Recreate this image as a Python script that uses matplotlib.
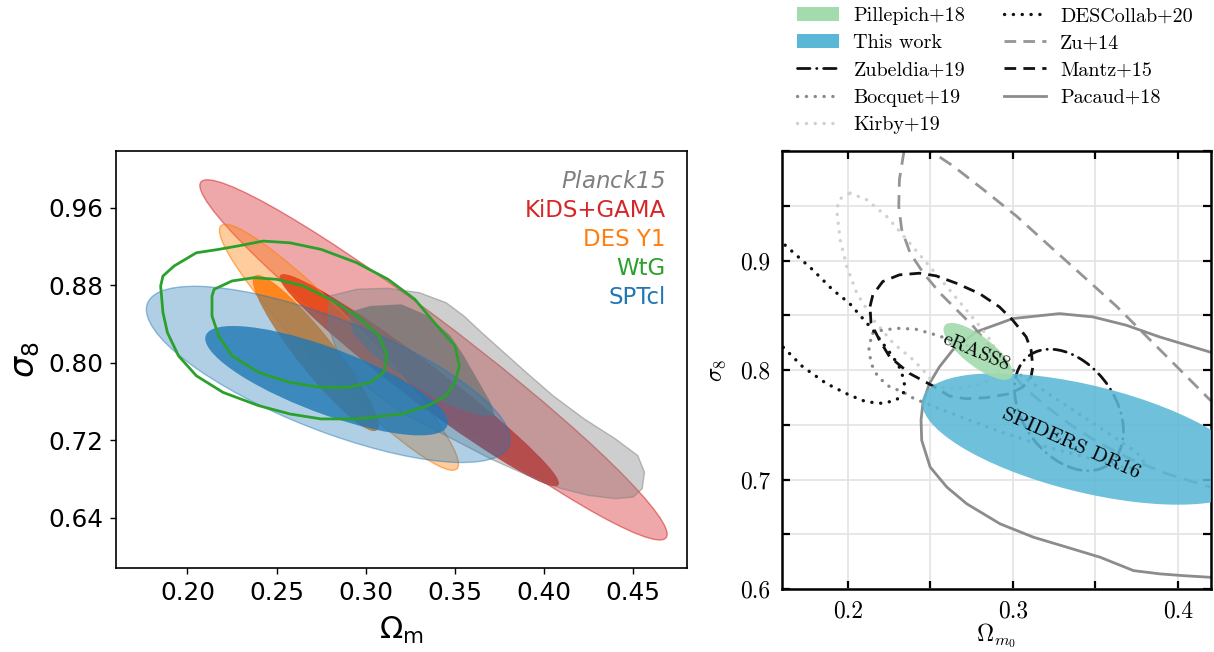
import numpy as np
import matplotlib
matplotlib.use("Agg")
import matplotlib.pyplot as plt
from matplotlib.patches import Circle, Polygon, Patch
from matplotlib.lines import Line2D
from matplotlib.transforms import Affine2D
from matplotlib.ticker import MultipleLocator, FixedLocator

plt.rcParams["font.family"] = ["DejaVu Sans"]

# ---------------------------------------------------------------------------
# Left panel: published constraints in the (Omega_m, sigma_8) plane
# Gaussian-like contours given as (centre_Om, centre_s8, half-extent Om,
# half-extent s8, correlation)
# ---------------------------------------------------------------------------
kids_outer = (0.338, 0.803, 0.131, 0.186, -0.968)
kids_inner = (0.330, 0.782, 0.078, 0.109, -0.975)
des_outer = (0.285, 0.816, 0.067, 0.127, -0.95)
des_inner = (0.272, 0.810, 0.035, 0.080, -0.93)
spt_outer = (0.279, 0.788, 0.102, 0.091, -0.736)
spt_inner = (0.278, 0.7815, 0.068, 0.0565, -0.77)

# Non-Gaussian contours traced as closed outlines
planck_outer_om = [0.280, 0.295, 0.3125, 0.330, 0.345, 0.355, 0.365, 0.3775, 0.390,
                   0.405, 0.4225, 0.440, 0.4525, 0.4563, 0.455, 0.450, 0.440, 0.425,
                   0.410, 0.395, 0.370, 0.345, 0.320, 0.300, 0.285, 0.2788]
planck_outer_s8 = [0.869, 0.8759, 0.8769, 0.8724, 0.8621, 0.8484, 0.8312, 0.8106, 0.790,
                   0.766, 0.742, 0.7214, 0.7042, 0.687, 0.6699, 0.6613, 0.6596, 0.663,
                   0.6699, 0.6802, 0.7008, 0.7248, 0.7488, 0.7763, 0.8072, 0.8381]
planck_inner_om = [0.290, 0.3025, 0.320, 0.335, 0.3475, 0.355, 0.3625, 0.370, 0.3725,
                   0.365, 0.3525, 0.340, 0.3275, 0.315, 0.3025, 0.2925]
planck_inner_s8 = [0.8518, 0.8587, 0.8604, 0.8484, 0.8278, 0.8072, 0.7832, 0.7591, 0.7454,
                   0.7454, 0.7523, 0.7626, 0.7763, 0.7935, 0.8106, 0.8312]

wtg_outer_om = [0.185, 0.1863, 0.1925, 0.205, 0.2175, 0.230, 0.2425, 0.2575, 0.275, 0.295,
                0.3125, 0.3275, 0.340, 0.350, 0.3525, 0.350, 0.345, 0.335, 0.320, 0.295,
                0.275, 0.2575, 0.240, 0.220, 0.205, 0.195, 0.1888, 0.1863]
wtg_outer_s8 = [0.8793, 0.8896, 0.8999, 0.9136, 0.9171, 0.9212, 0.9257, 0.9239, 0.9171,
                0.9033, 0.8862, 0.8656, 0.8381, 0.8175, 0.7969, 0.7797, 0.766, 0.7557,
                0.7471, 0.742, 0.742, 0.7471, 0.7557, 0.7694, 0.7866, 0.8072, 0.8312, 0.8518]
wtg_inner_om = [0.2138, 0.215, 0.225, 0.2375, 0.250, 0.265, 0.280, 0.295, 0.3075, 0.312,
                0.310, 0.3025, 0.290, 0.275, 0.2575, 0.240, 0.225, 0.2175, 0.2138]
wtg_inner_s8 = [0.869, 0.8759, 0.8845, 0.8879, 0.8862, 0.8793, 0.8656, 0.8484, 0.8278,
                0.8072, 0.790, 0.7797, 0.7746, 0.7746, 0.7797, 0.790, 0.8072, 0.8278, 0.8484]

left_names = ["Planck15", "KiDS+GAMA", "DES Y1", "WtG", "SPTcl"]
left_xticks = [0.20, 0.25, 0.30, 0.35, 0.40, 0.45]
left_yticks = [0.64, 0.72, 0.80, 0.88, 0.96]

# ---------------------------------------------------------------------------
# Right panel: cluster-count constraints
# ---------------------------------------------------------------------------
this_work = (0.345, 0.737, 0.100, 0.060, -0.55)
pillepich = (0.279, 0.817, 0.021, 0.026, -0.77)
zubeldia = (0.334, 0.7635, 0.033, 0.0555, -0.35)

mantz_om = [0.2135, 0.2152, 0.2212, 0.2313, 0.2434, 0.2535, 0.2657, 0.2798, 0.2919, 0.300,
            0.3081, 0.3111, 0.3121, 0.311, 0.306, 0.298, 0.2838, 0.2717, 0.2616, 0.2525,
            0.2374, 0.2253, 0.2192, 0.2141, 0.2135]
mantz_s8 = [0.858, 0.8686, 0.8808, 0.8869, 0.8884, 0.886, 0.8793, 0.8698, 0.8576, 0.8454,
            0.8302, 0.818, 0.8027, 0.7936, 0.7844, 0.7783, 0.7747, 0.7738, 0.7762, 0.7847,
            0.7969, 0.8122, 0.8274, 0.8427, 0.858]

zu_om = [0.2341, 0.2313, 0.2309, 0.2327, 0.2378, 0.2459, 0.256, 0.2661, 0.2762, 0.2863,
         0.2964, 0.3065, 0.3206, 0.3368, 0.3529, 0.3731, 0.3933, 0.4196, 0.430,
         0.430, 0.4196, 0.4034, 0.3832, 0.363, 0.3428, 0.3226, 0.3024, 0.2822, 0.264,
         0.2519, 0.2460]
zu_s8 = [1.0000, 0.9738, 0.9494, 0.9281, 0.9067, 0.8884, 0.8701, 0.8548, 0.8396, 0.8213,
         0.803, 0.7847, 0.7663, 0.748, 0.7328, 0.7175, 0.7053, 0.6931, 0.690,
         0.765, 0.7724, 0.7969, 0.8274, 0.8579, 0.8854, 0.9128, 0.9403, 0.9647, 0.9861,
         0.9983, 1.006]

pacaud_om = [0.425, 0.4192, 0.3889, 0.3687, 0.3485, 0.3283, 0.300, 0.2778, 0.2636, 0.2556,
             0.2495, 0.2455, 0.2444, 0.2448, 0.2499, 0.260, 0.2721, 0.2923, 0.3125, 0.3327,
             0.3529, 0.3731, 0.3893, 0.4034, 0.4196, 0.425]
pacaud_s8 = [0.814, 0.8165, 0.8302, 0.8409, 0.8485, 0.8515, 0.847, 0.8348, 0.8183, 0.803,
             0.7878, 0.7695, 0.7542, 0.7358, 0.7114, 0.6931, 0.6778, 0.6595, 0.6473, 0.6382,
             0.629, 0.6168, 0.6138, 0.6122, 0.6107, 0.610]

kirby_om = [0.2014, 0.2115, 0.2236, 0.2358, 0.2479, 0.260, 0.2701, 0.2802, 0.287, 0.292,
            0.291, 0.280, 0.265, 0.2535, 0.2475, 0.2398, 0.2277, 0.2156, 0.2055, 0.1994,
            0.1954, 0.1933, 0.1950, 0.2014]
kirby_s8 = [0.9616, 0.9555, 0.9403, 0.9189, 0.8976, 0.8762, 0.8579, 0.8396, 0.826, 0.810,
            0.795, 0.787, 0.783, 0.7847, 0.7969, 0.8091, 0.8243, 0.8457, 0.8701, 0.8945,
            0.9189, 0.9464, 0.9560, 0.9616]

bocquet_om = [0.2152, 0.2212, 0.2313, 0.2414, 0.2535, 0.2596, 0.280, 0.300, 0.320, 0.340,
              0.360, 0.375, 0.380, 0.370, 0.350, 0.320, 0.290, 0.260, 0.240, 0.2333,
              0.2253, 0.2182, 0.2141, 0.2127, 0.2152]
bocquet_s8 = [0.8335, 0.8366, 0.8381, 0.8372, 0.832, 0.8289, 0.818, 0.800, 0.780, 0.760,
              0.740, 0.725, 0.715, 0.710, 0.718, 0.730, 0.745, 0.762, 0.774, 0.7801,
              0.7847, 0.7939, 0.8061, 0.8213, 0.8335]

descollab_om = [0.150, 0.1606, 0.1788, 0.1909, 0.201, 0.2081, 0.2152, 0.2212, 0.2273,
                0.2323, 0.2343, 0.2337, 0.2293, 0.2212, 0.2111, 0.201, 0.1869, 0.1727,
                0.1606, 0.150]
descollab_s8 = [0.930, 0.916, 0.8915, 0.8732, 0.861, 0.8488, 0.8366, 0.8244, 0.8122,
                0.800, 0.7878, 0.7786, 0.7725, 0.7695, 0.771, 0.7771, 0.7878, 0.803,
                0.8213, 0.836]

right_labels = ["Pillepich+18", "This work", "Zubeldia+19", "Bocquet+19", "Kirby+19",
                "DESCollab+20", "Zu+14", "Mantz+15", "Pacaud+18"]
right_xticks = [0.2, 0.3, 0.4]
right_yticks = [0.6, 0.7, 0.8, 0.9]


def gauss_patch(ax, params, **kw):
    """Add a correlated-Gaussian contour as a transformed unit circle."""
    cx, cy, sx, sy, rho = params
    mat = np.array([[sx, 0.0, cx],
                    [rho * sy, np.sqrt(1.0 - rho ** 2) * sy, cy],
                    [0.0, 0.0, 1.0]])
    patch = Circle((0, 0), 1.0, transform=Affine2D(mat) + ax.transData, **kw)
    ax.add_patch(patch)
    return patch


fig = plt.figure(figsize=(12.14, 6.52), dpi=100)

# ----------------------------- left panel ---------------------------------
ax1 = fig.add_axes([0.0956, 0.1288, 0.4701, 0.6400])
red, orange, green, blue, grey = "#d62728", "#ff7f0e", "#2ca02c", "#1f77b4", "#808080"

gauss_patch(ax1, kids_outer, facecolor=(0.84, 0.15, 0.16, 0.40), edgecolor=(0.84, 0.15, 0.16, 0.55), lw=1.0, zorder=1)
gauss_patch(ax1, kids_inner, facecolor=red, edgecolor=red, lw=0.8, alpha=0.95, zorder=1.1)
gauss_patch(ax1, des_outer, facecolor=(1.0, 0.5, 0.055, 0.40), edgecolor=(1.0, 0.5, 0.055, 0.6), lw=1.0, zorder=1.2)
gauss_patch(ax1, des_inner, facecolor=orange, edgecolor=orange, lw=0.8, alpha=0.9, zorder=1.3)
ax1.add_patch(Polygon(np.column_stack([planck_outer_om, planck_outer_s8]), closed=True,
                      facecolor=(0.5, 0.5, 0.5, 0.38), edgecolor=(0.5, 0.5, 0.5, 0.5), lw=1.0, zorder=1.4))
ax1.add_patch(Polygon(np.column_stack([planck_inner_om, planck_inner_s8]), closed=True,
                      facecolor=(0.45, 0.45, 0.45, 0.75), edgecolor="none", zorder=1.5))
gauss_patch(ax1, spt_outer, facecolor=(0.12, 0.47, 0.71, 0.35), edgecolor=(0.12, 0.47, 0.71, 0.45), lw=1.0, zorder=1.6)
gauss_patch(ax1, spt_inner, facecolor=(0.12, 0.47, 0.71, 0.80), edgecolor="none", zorder=1.7)
ax1.add_patch(Polygon(np.column_stack([wtg_outer_om, wtg_outer_s8]), closed=True,
                      facecolor="none", edgecolor=green, lw=2.0, zorder=2))
ax1.add_patch(Polygon(np.column_stack([wtg_inner_om, wtg_inner_s8]), closed=True,
                      facecolor="none", edgecolor=green, lw=2.0, zorder=2))

ax1.set_xlim(0.16, 0.48)
ax1.set_ylim(0.588, 1.019)
ax1.set_xticks(left_xticks)
ax1.set_yticks(left_yticks)
ax1.set_xticklabels([f"{v:.2f}" for v in left_xticks])
ax1.set_yticklabels([f"{v:.2f}" for v in left_yticks])
ax1.tick_params(direction="out", length=4, width=1, labelsize=17.8, pad=5)
for s in ax1.spines.values():
    s.set_linewidth(1.2)
ax1.set_xlabel(r"$\Omega_\mathrm{m}$", fontsize=22, math_fontfamily="dejavusans")
ax1.xaxis.set_label_coords(0.5, -0.112)
ax1.set_ylabel(r"$\sigma_8$", fontsize=24, math_fontfamily="dejavusans")
ax1.yaxis.set_label_coords(-0.13, 0.5)

left_colors = [grey, red, orange, green, blue]
left_ypos = [0.927, 0.857, 0.787, 0.718, 0.649]
for name, col, yp in zip(left_names, left_colors, left_ypos):
    label = r"$\mathit{Planck}$15" if name == "Planck15" else name
    ax1.text(0.963, yp, label, color=col, fontsize=16.5, ha="right", va="center",
             transform=ax1.transAxes, math_fontfamily="dejavusans",
             style="italic" if name == "Planck15" else "normal")

# ----------------------------- right panel --------------------------------
ax2 = fig.add_axes([0.6439, 0.0966, 0.3536, 0.6718])
ax2.set_xlim(0.16, 0.42)
ax2.set_ylim(0.6, 1.0)

black = "#111111"
c_zu, c_pac, c_boc, c_kir = "#959595", "#8c8c8c", "#8a8a8a", "#d0d0d0"
lw = 2.0
lw_dot = 2.4
dot = (0.05, 2.6)
dash_zu = (5.0, 3.0)
dash_mantz = (4.2, 2.6)
dashdot = (0, (4.5, 2.4, 0.1, 2.4))

ax2.plot(zu_om, zu_s8, color=c_zu, lw=lw, dashes=dash_zu, zorder=2)
ax2.plot(pacaud_om, pacaud_s8, color=c_pac, lw=lw, zorder=2)
ax2.plot(kirby_om, kirby_s8, color=c_kir, lw=lw_dot, dashes=dot, dash_capstyle="round", zorder=2)
ax2.plot(bocquet_om, bocquet_s8, color=c_boc, lw=lw_dot, dashes=dot, dash_capstyle="round", zorder=2)
ax2.plot(descollab_om, descollab_s8, color=black, lw=lw_dot, dashes=dot, dash_capstyle="round", zorder=2.1)
ax2.plot(mantz_om, mantz_s8, color=black, lw=lw, dashes=dash_mantz, zorder=2.2)
gauss_patch(ax2, zubeldia, facecolor="none", edgecolor=black, lw=lw,
            linestyle=dashdot, capstyle="round", zorder=2.2)

blue_fill = "#5ab8d6"
green_fill = "#a3dbad"
gauss_patch(ax2, this_work, facecolor=blue_fill, edgecolor="none", alpha=0.88, zorder=3)
gauss_patch(ax2, pillepich, facecolor=green_fill, edgecolor="none", alpha=0.9, zorder=3.5)

ax2.text(this_work[0] - 0.01, this_work[1] - 0.004, "SPIDERS DR16", rotation=-24,
         ha="center", va="center", fontsize=15, family="cmr10", zorder=5)
ax2.text(pillepich[0] - 0.001, pillepich[1] - 0.001, "eRASS8", rotation=-23,
         ha="center", va="center", fontsize=14.5, family="cmr10", zorder=5)

ax2.xaxis.set_major_locator(FixedLocator(right_xticks))
ax2.xaxis.set_minor_locator(MultipleLocator(0.05))
ax2.yaxis.set_major_locator(FixedLocator(right_yticks))
ax2.yaxis.set_minor_locator(MultipleLocator(0.05))
ax2.grid(True, which="both", color="#e3e3e3", lw=1.2, zorder=0)
ax2.set_axisbelow(True)
ax2.tick_params(which="both", direction="in", top=True, right=True, length=6, width=1.6,
                labelsize=17, pad=8, labelfontfamily="cmr10")
for s in ax2.spines.values():
    s.set_linewidth(1.8)
ax2.set_xlabel(r"$\Omega_{m_0}$", fontsize=17, math_fontfamily="cm")
ax2.xaxis.set_label_coords(0.5, -0.075)
ax2.set_ylabel(r"$\sigma_8$", fontsize=17, math_fontfamily="cm")
ax2.yaxis.set_label_coords(-0.125, 0.5)

handles = [
    Patch(facecolor=green_fill, edgecolor="none"),
    Patch(facecolor=blue_fill, edgecolor="none"),
    Line2D([], [], color=black, lw=lw, linestyle=dashdot, dash_capstyle="round"),
    Line2D([], [], color=c_boc, lw=lw_dot, dashes=dot, dash_capstyle="round"),
    Line2D([], [], color=c_kir, lw=lw_dot, dashes=dot, dash_capstyle="round"),
    Line2D([], [], color=black, lw=lw_dot, dashes=dot, dash_capstyle="round"),
    Line2D([], [], color=c_zu, lw=lw, dashes=dash_mantz),
    Line2D([], [], color=black, lw=lw, dashes=dash_mantz),
    Line2D([], [], color=c_pac, lw=lw),
]
fig.legend(handles, right_labels, ncol=2, loc="upper left",
           bbox_to_anchor=(797 / 1214, 1 - 7 / 652), frameon=False, borderpad=0,
           borderaxespad=0, handlelength=2.1, handletextpad=0.7, columnspacing=1.9,
           labelspacing=0.45, prop={"family": "cmr10", "size": 14.5})

fig.savefig("out.png", dpi=100)
